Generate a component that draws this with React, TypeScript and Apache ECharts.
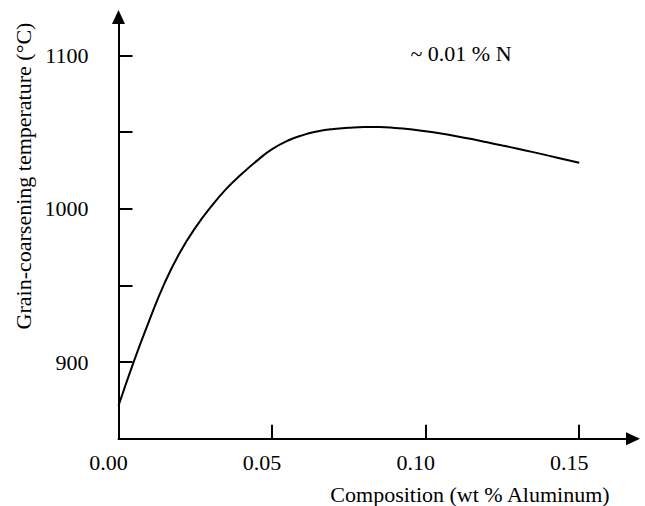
import React, { useEffect, useRef } from "react";
import * as echarts from "echarts";

const compositionX = [0, 0.005, 0.01, 0.015, 0.02, 0.025, 0.03, 0.035, 0.04, 0.045, 0.05, 0.055, 0.06, 0.065, 0.07, 0.075, 0.08, 0.085, 0.09, 0.095, 0.1, 0.105, 0.11, 0.115, 0.12, 0.125, 0.13, 0.135, 0.14, 0.145, 0.15];
const temperatureY = [871.5, 900.5, 927, 951.5, 971.5, 987.5, 1001, 1012.8, 1022.5, 1031.2, 1038.8, 1044.3, 1048, 1050.5, 1052, 1052.8, 1053.2, 1053.2, 1052.7, 1051.8, 1050.5, 1049, 1047.3, 1045.4, 1043.3, 1041.2, 1039.1, 1036.9, 1034.6, 1032.3, 1030];

const xTickValues = [0.05, 0.1, 0.15];
const xLabelValues = [0, 0.05, 0.1, 0.15];
const yTickValues = [900, 950, 1000, 1050, 1100];
const yLabelValues = [900, 1000, 1100];

const xAxisName = "Composition (wt % Aluminum)";
const yAxisName = "Grain-coarsening temperature (\u00B0C)";
const annotation = "~ 0.01 % N";

export default function App() {
  const ref = useRef<HTMLDivElement>(null);
  useEffect(() => {
    if (!ref.current) return;
    const chart = echarts.init(ref.current, undefined, { renderer: "svg" });
    const font = "Liberation Serif";
    const data = compositionX.map((x, i) => [x, temperatureY[i]]);
    chart.setOption({
      animation: false,
      backgroundColor: "#ffffff",
      grid: { left: 118.5, right: 12, top: 17, bottom: 67.25, containLabel: false },
      xAxis: {
        type: "value",
        min: 0,
        max: 0.1675,
        splitLine: { show: false },
        axisLine: {
          show: true,
          lineStyle: { color: "#000", width: 2 },
          symbol: ["none", "triangle"],
          symbolSize: [13, 14],
        },
        axisTick: {
          show: true,
          inside: true,
          length: 14,
          lineStyle: { color: "#000", width: 2 },
          customValues: xTickValues,
        },
        axisLabel: {
          show: true,
          customValues: xLabelValues,
          formatter: (v: number) => v.toFixed(2),
          color: "#000",
          fontFamily: font,
          fontSize: 22,
          margin: 13,
          padding: [0, 20, 0, 0],
        },
      },
      yAxis: {
        type: "value",
        min: 850,
        max: 1125,
        splitLine: { show: false },
        axisLine: {
          show: true,
          lineStyle: { color: "#000", width: 2 },
          symbol: ["none", "triangle"],
          symbolSize: [13, 14],
        },
        axisTick: {
          show: true,
          inside: true,
          length: 14,
          lineStyle: { color: "#000", width: 2 },
          customValues: yTickValues,
        },
        axisLabel: {
          show: true,
          customValues: yLabelValues,
          formatter: (v: number) => String(v),
          color: "#000",
          fontFamily: font,
          fontSize: 22,
          margin: 30,
        },
      },
      graphic: [
        {
          type: "text",
          x: 470,
          y: 494,
          style: {
            text: xAxisName,
            fontFamily: font,
            fontSize: 22,
            fill: "#000",
            align: "center",
            verticalAlign: "middle",
          },
        },
        {
          type: "text",
          x: 23,
          y: 176,
          rotation: Math.PI / 2,
          style: {
            text: yAxisName,
            fontFamily: font,
            fontSize: 22,
            fill: "#000",
            align: "center",
            verticalAlign: "middle",
          },
        },
        {
          type: "text",
          x: 461,
          y: 53,
          style: {
            text: annotation,
            fontFamily: font,
            fontSize: 22,
            fill: "#000",
            align: "center",
            verticalAlign: "middle",
          },
        },
      ],
      series: [
        {
          type: "line",
          data,
          smooth: 0.5,
          showSymbol: false,
          lineStyle: { color: "#000", width: 2 },
        },
      ],
    });
    return () => chart.dispose();
  }, []);
  return (
    <div
      ref={ref}
      style={{ position: "fixed", left: 0, top: 0, width: 645, height: 506 }}
    />
  );
}
